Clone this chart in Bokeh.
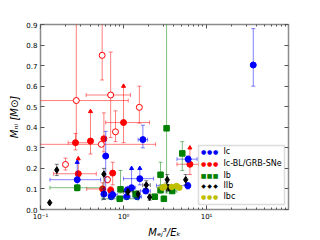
import math
from bokeh.plotting import figure
from bokeh.models import (LogAxis, LinearAxis, Label, BoxAnnotation, FixedTicker,
                          Range1d, CustomJSTickFormatter)
from bokeh.embed import file_html
from bokeh.resources import INLINE

# ---------------- data ----------------
# Ic
ic_x   = [36.5, 1.71, 0.61, 0.277, 0.58, 0.74, 1.09, 1.46, 1.57, 1.25, 1.11, 6.0, 5.95, 1.85, 0.71]
ic_y   = [0.703, 0.34, 0.26, 0.145, 0.075, 0.072, 0.062, 0.062, 0.15, 0.106, 0.094, 0.245, 0.116, 0.09, 0.062]
ic_xlo = [36.5, 1.50, 0.58, 0.13, 0.58, 0.66, 0.98, 1.30, 1.00, 1.12, 1.11, 4.4, 2.5, 1.6, 0.71]
ic_xhi = [36.5, 1.95, 0.64, 0.53, 0.58, 0.84, 1.20, 1.65, 2.30, 1.40, 1.11, 7.7, 5.95, 2.1, 0.71]
ic_ylo = [0.60, 0.30, 0.07, 0.10, 0.05, 0.055, 0.05, 0.05, 0.12, 0.09, 0.08, 0.23, 0.10, 0.08, 0.05]
ic_yhi = [0.88, 0.41, 0.38, 0.23, 0.10, 0.09, 0.075, 0.075, 0.20, 0.20, 0.11, 0.26, 0.13, 0.10, 0.075]
ic_up  = [0, 0, 0, 1, 0, 0, 0, 0, 1, 1, 0, 0, 0, 0, 0]

# Ic-BL / GRB-SNe (open: 0 filled, 1 open)
bl_x   = [0.27, 0.553, 0.70, 1.0, 1.55, 0.80, 0.58, 0.54, 0.264, 0.40, 0.285, 0.20, 0.74, 0.64, 0.56, 0.70, 6.3]
bl_y   = [0.53, 0.75, 0.557, 0.423, 0.497, 0.378, 0.344, 0.317, 0.325, 0.333, 0.174, 0.219, 0.177, 0.145, 0.10, 0.094, 0.22]
bl_xlo = [0.08, 0.553, 0.355, 0.61, 1.55, 0.80, 0.58, 0.08, 0.215, 0.40, 0.143, 0.20, 0.74, 0.64, 0.36, 0.70, 4.4]
bl_xhi = [1.14, 0.553, 1.21, 2.06, 1.55, 0.80, 0.58, 2.43, 0.39, 0.40, 0.47, 0.20, 0.74, 0.64, 0.56, 0.70, 8.0]
bl_ylo = [0.33, 0.63, 0.35, 0.325, 0.42, 0.33, 0.28, 0.317, 0.29, 0.27, 0.16, 0.192, 0.12, 0.13, 0.07, 0.08, 0.17]
bl_yhi = [0.95, 0.95, 0.766, 0.60, 0.60, 0.48, 0.47, 0.317, 0.37, 0.477, 0.247, 0.25, 0.23, 0.16, 0.13, 0.11, 0.30]
bl_up  = [0, 0, 0, 1, 0, 0, 0, 0, 0, 1, 1, 0, 0, 0, 0, 0, 1]
bl_open = [1, 1, 1, 0, 1, 1, 0, 1, 0, 0, 0, 1, 0, 1, 0, 0, 0]

# Ib
ib_x   = [3.3, 5.1, 0.277, 0.90, 0.92, 1.40, 2.79, 2.79, 2.38, 3.06, 3.86]
ib_y   = [0.395, 0.273, 0.106, 0.052, 0.098, 0.075, 0.169, 0.094, 0.062, 0.052, 0.09]
ib_xlo = [3.3, 5.1, 0.13, 0.55, 0.92, 1.40, 2.79, 2.79, 2.38, 3.06, 3.3]
ib_xhi = [3.3, 5.1, 0.55, 1.50, 0.92, 1.40, 2.79, 2.79, 2.38, 3.06, 4.4]
ib_ylo = [0.08, 0.19, 0.09, 0.04, 0.08, 0.06, 0.12, 0.08, 0.05, 0.04, 0.08]
ib_yhi = [0.95, 0.33, 0.12, 0.065, 0.19, 0.09, 0.23, 0.11, 0.075, 0.065, 0.10]

# IIb
iib_x   = [0.129, 0.157, 0.58, 1.13, 1.50, 1.88, 2.06, 3.36, 3.5, 3.3, 5.6]
iib_y   = [0.033, 0.192, 0.172, 0.086, 0.075, 0.119, 0.06, 0.145, 0.106, 0.11, 0.145]
iib_xlo = [0.129, 0.157, 0.58, 1.0, 1.50, 1.7, 2.06, 3.36, 3.5, 3.3, 5.6]
iib_xhi = [0.129, 0.157, 0.58, 1.3, 1.50, 2.1, 2.06, 3.36, 3.5, 3.3, 5.6]
iib_ylo = [0.033, 0.165, 0.05, 0.07, 0.06, 0.10, 0.045, 0.12, 0.09, 0.09, 0.12]
iib_yhi = [0.033, 0.22, 0.20, 0.10, 0.09, 0.14, 0.075, 0.17, 0.12, 0.13, 0.17]

# Ibc
ibc_x   = [2.95, 3.1, 4.35, 4.7, 3.8]
ibc_y   = [0.106, 0.111, 0.114, 0.106, 0.11]
ibc_xlo = [2.6, 2.9, 4.0, 4.5, 3.6]
ibc_xhi = [3.3, 3.3, 4.7, 5.0, 4.0]
ibc_ylo = [0.10, 0.10, 0.105, 0.10, 0.10]
ibc_yhi = [0.115, 0.12, 0.125, 0.115, 0.12]

legend_labels = ["Ic", "Ic-BL/GRB-SNe", "Ib", "IIb", "Ibc"]
x_ticks = [0.1, 1, 10]
x_minor = [0.2, 0.3, 0.4, 0.5, 0.6, 0.7, 0.8, 0.9, 2, 3, 4, 5, 6, 7, 8, 9,
           20, 30, 40, 50, 60, 70, 80, 90]
y_ticks = [0.0, 0.1, 0.2, 0.3, 0.4, 0.5, 0.6, 0.7, 0.8, 0.9]
x_title = "M\u2091\u2C7C\u00b3/E\u2096"
y_title = "M\u2099\u1D62 [M\u2299]"

FONT = "DejaVu Sans"
C_BLUE, C_RED, C_GREEN, C_BLACK, C_YEL = "#0000ff", "#ff0000", "#008000", "#000000", "#bfbf00"

p = figure(width=320, height=240, x_axis_type="log",
           x_range=Range1d(0.1, 97), y_range=Range1d(0, 0.9),
           output_backend="svg", toolbar_location=None,
           min_border_left=40, min_border_right=32, min_border_top=24, min_border_bottom=24)
p.grid.visible = False
p.outline_line_color = "#8c8c8c"
p.outline_line_width = 1.5
p.background_fill_color = "white"
p.border_fill_color = "white"

tick_fmt = CustomJSTickFormatter(code="""
const e = Math.round(Math.log10(tick));
const sup = {"-1": "\u207b\u00b9", "0": "\u2070", "1": "\u00b9", "2": "\u00b2"};
return "10" + sup[String(e)];
""")

def style_axis(ax, show_labels, minor=True):
    ax.axis_line_color = None
    ax.major_tick_in = 4
    ax.major_tick_out = 0
    ax.minor_tick_in = 2
    ax.minor_tick_out = 0
    ax.major_tick_line_color = "#555555"
    ax.minor_tick_line_color = "#555555" if minor else None
    ax.major_label_text_font = FONT
    ax.major_label_text_font_size = "7px"
    ax.major_label_text_color = "#000000" if show_labels else None
    ax.major_label_standoff = 3

p.xaxis.ticker = FixedTicker(ticks=x_ticks, minor_ticks=x_minor)
p.xaxis.formatter = tick_fmt
p.yaxis.ticker = FixedTicker(ticks=y_ticks, minor_ticks=[])
p.yaxis.formatter = CustomJSTickFormatter(code="return tick.toFixed(1);")
style_axis(p.xaxis[0], True)
style_axis(p.yaxis[0], True, minor=False)

for ax, title in ((p.xaxis[0], x_title), (p.yaxis[0], y_title)):
    ax.axis_label = title
    ax.axis_label_text_font = FONT
    ax.axis_label_text_font_size = "10px"
    ax.axis_label_text_font_style = "italic"
    ax.axis_label_text_color = "#000000"
    ax.axis_label_standoff = 3

top_ax = LogAxis(ticker=FixedTicker(ticks=x_ticks, minor_ticks=x_minor), formatter=tick_fmt)
right_ax = LinearAxis(ticker=FixedTicker(ticks=y_ticks, minor_ticks=[]))
style_axis(top_ax, False)
style_axis(right_ax, False, minor=False)
p.add_layout(top_ax, "above")
p.add_layout(right_ax, "right")


def add_series(xs, ys, xlo, xhi, ylo, yhi, up, color, marker, size, opens=None):
    n = len(xs)
    ea = 0.5
    yi = [i for i in range(n) if ylo[i] < yhi[i]]
    p.segment(x0=[xs[i] for i in yi], y0=[ylo[i] for i in yi],
              x1=[xs[i] for i in yi], y1=[yhi[i] for i in yi],
              line_color=color, line_alpha=ea, line_width=1)
    capx = [xs[i] for i in yi] + [xs[i] for i in yi if not up[i]]
    capy = [ylo[i] for i in yi] + [yhi[i] for i in yi if not up[i]]
    p.scatter(x=capx, y=capy, marker="dash", size=4, line_color=color, line_alpha=ea, line_width=1)
    xi = [i for i in range(n) if xlo[i] < xhi[i]]
    p.segment(x0=[xlo[i] for i in xi], y0=[ys[i] for i in xi],
              x1=[xhi[i] for i in xi], y1=[ys[i] for i in xi],
              line_color=color, line_alpha=ea, line_width=1)
    p.scatter(x=[xlo[i] for i in xi] + [xhi[i] for i in xi],
              y=[ys[i] for i in xi] * 2, marker="dash", angle=math.pi / 2,
              size=4, line_color=color, line_alpha=ea, line_width=1)
    ui = [i for i in range(n) if up[i]]
    if ui:
        p.scatter(x=[xs[i] for i in ui], y=[yhi[i] for i in ui], marker="triangle",
                  size=4, fill_color=color, line_color=color)
    if opens is None:
        opens = [0] * n
    fi = [i for i in range(n) if not opens[i]]
    oi = [i for i in range(n) if opens[i]]
    p.scatter(x=[xs[i] for i in fi], y=[ys[i] for i in fi], marker=marker, size=size,
              fill_color=color, line_color=color)
    if oi:
        p.scatter(x=[xs[i] for i in oi], y=[ys[i] for i in oi], marker=marker, size=size,
                  fill_color="white", line_color=color, line_width=1)


add_series(bl_x, bl_y, bl_xlo, bl_xhi, bl_ylo, bl_yhi, bl_up, C_RED, "circle", 6, bl_open)
add_series(ic_x, ic_y, ic_xlo, ic_xhi, ic_ylo, ic_yhi, ic_up, C_BLUE, "circle", 6)
add_series(ib_x, ib_y, ib_xlo, ib_xhi, ib_ylo, ib_yhi, [0] * len(ib_x), C_GREEN, "square", 5.5)
add_series(iib_x, iib_y, iib_xlo, iib_xhi, iib_ylo, iib_yhi, [0] * len(iib_x), C_BLACK, "diamond", 6.5)
add_series(ibc_x, ibc_y, ibc_xlo, ibc_xhi, ibc_ylo, ibc_yhi, [0] * len(ibc_x), C_YEL, "circle", 5.5)

# ---------------- legend (screen units, relative to the frame) ----------------
p.add_layout(BoxAnnotation(left=158, right=244, bottom=5, top=64,
                           left_units="screen", right_units="screen",
                           bottom_units="screen", top_units="screen",
                           fill_color="white", fill_alpha=1,
                           line_color="#8c8c8c", line_width=1.5, level="overlay"))
leg_sym = [("\u25cf", C_BLUE), ("\u25cf", C_RED), ("\u25a0", C_GREEN),
           ("\u25c6", C_BLACK), ("\u25cf", C_YEL)]
row_y = [57.7, 46.0, 34.3, 23.7, 12.7]
for (sym, col), lab, ry in zip(leg_sym, legend_labels, row_y):
    for dx in (163, 169, 175):
        p.add_layout(Label(x=dx, y=ry, x_units="screen", y_units="screen", text=sym,
                           text_color=col, text_font=FONT, text_font_size="6px",
                           text_align="center", text_baseline="middle", level="overlay"))
    p.add_layout(Label(x=183, y=ry, x_units="screen", y_units="screen", text=lab,
                       text_color="#000000", text_font=FONT, text_font_size="8px",
                       text_align="left", text_baseline="middle", level="overlay"))

open("out.html", "w").write(file_html(p, INLINE))
